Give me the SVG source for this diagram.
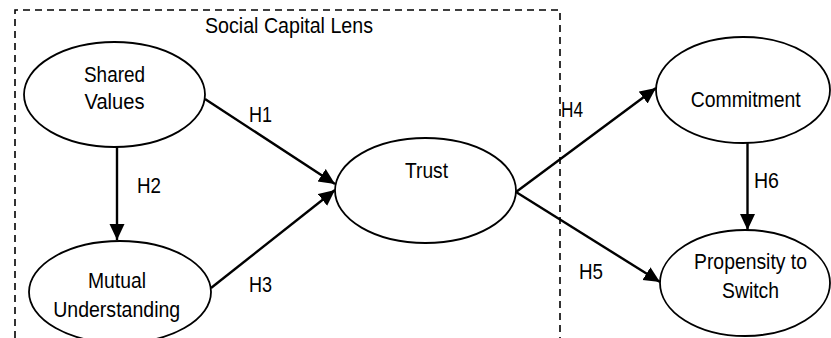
<svg xmlns="http://www.w3.org/2000/svg" width="831" height="338" viewBox="0 0 831 338">
<defs>
<style>
text{font-family:"Liberation Sans",Arial,sans-serif;font-size:22.5px;fill:#000}
.node{fill:#fff;stroke:#000;stroke-width:1.8}
.edge{stroke:#000;stroke-width:2.4;fill:none;marker-end:url(#ah)}
.lens{stroke:#000;stroke-width:1.6;fill:none;stroke-dasharray:7 5}
</style>
<marker id="ah" markerUnits="userSpaceOnUse" markerWidth="17" markerHeight="16" refX="16" refY="7.5" orient="auto">
<path d="M0,0 L16,7.5 L0,15 z" fill="#000"/>
</marker>
</defs>
<rect width="831" height="338" fill="#fff"/>
<g id="lens">
<path class="lens" d="M15,338 V10 H560 V338"/>
<text x="289" y="32.5" text-anchor="middle" textLength="168" lengthAdjust="spacingAndGlyphs">Social Capital Lens</text>
</g>
<g id="connectors">
<line class="edge" x1="205" y1="99" x2="335" y2="184"/>
<line class="edge" x1="117" y1="147" x2="117" y2="240"/>
<line class="edge" x1="211" y1="288" x2="335" y2="190"/>
<line class="edge" x1="516" y1="192" x2="656" y2="88"/>
<line class="edge" x1="516" y1="192" x2="660" y2="282"/>
<line class="edge" x1="747.5" y1="143" x2="747.5" y2="230"/>
<text x="249" y="122" textLength="23" lengthAdjust="spacingAndGlyphs">H1</text>
<text x="137" y="193" textLength="24" lengthAdjust="spacingAndGlyphs">H2</text>
<text x="249" y="292" textLength="23" lengthAdjust="spacingAndGlyphs">H3</text>
<text x="561" y="117" textLength="22" lengthAdjust="spacingAndGlyphs">H4</text>
<text x="579" y="279" textLength="24" lengthAdjust="spacingAndGlyphs">H5</text>
<text x="754" y="188" textLength="25" lengthAdjust="spacingAndGlyphs">H6</text>
</g>
<g id="shared-values">
<ellipse class="node" cx="114.5" cy="94.5" rx="90.5" ry="52.5"/>
<text x="114.5" y="81.5" text-anchor="middle" textLength="61" lengthAdjust="spacingAndGlyphs">Shared</text>
<text x="114.5" y="109.3" text-anchor="middle" textLength="60" lengthAdjust="spacingAndGlyphs">Values</text>
</g>
<g id="mutual-understanding">
<ellipse class="node" cx="120" cy="292" rx="91" ry="51"/>
<text x="117" y="287.7" text-anchor="middle" textLength="58" lengthAdjust="spacingAndGlyphs">Mutual</text>
<text x="116.7" y="316.7" text-anchor="middle" textLength="127" lengthAdjust="spacingAndGlyphs">Understanding</text>
</g>
<g id="trust">
<ellipse class="node" cx="425.5" cy="190.5" rx="90.5" ry="52.5"/>
<text x="426.5" y="178" text-anchor="middle" textLength="43" lengthAdjust="spacingAndGlyphs">Trust</text>
</g>
<g id="commitment">
<ellipse class="node" cx="743" cy="90" rx="87" ry="53"/>
<text x="745.7" y="107" text-anchor="middle" textLength="110" lengthAdjust="spacingAndGlyphs">Commitment</text>
</g>
<g id="propensity-to-switch">
<ellipse class="node" cx="745" cy="283" rx="85" ry="53"/>
<text x="750.5" y="269.3" text-anchor="middle" textLength="113" lengthAdjust="spacingAndGlyphs">Propensity to</text>
<text x="750.5" y="297.7" text-anchor="middle" textLength="57" lengthAdjust="spacingAndGlyphs">Switch</text>
</g>
</svg>
